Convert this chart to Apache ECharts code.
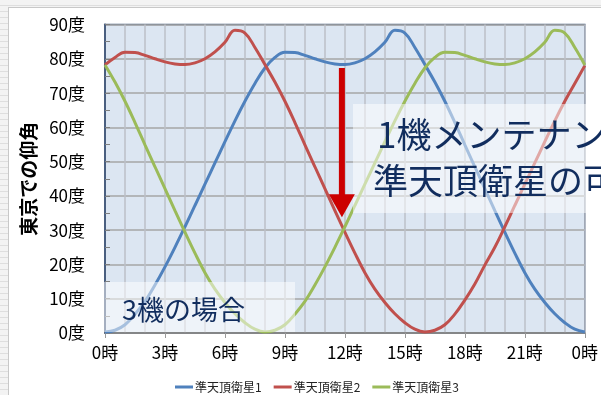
<!DOCTYPE html>
<html><head><meta charset="utf-8">
<script src="https://cdn.jsdelivr.net/npm/echarts@6/dist/echarts.min.js"></script>
<style>
html,body{margin:0;padding:0;width:601px;height:395px;overflow:hidden;
  background:repeating-linear-gradient(to bottom,#f3f3f3 0px,#f3f3f3 5px,#dedede 5px,#dedede 6px);}
#bg{position:absolute;left:8px;top:7px;width:700px;height:500px;background:#fff;border:1px solid #c8c8c8;}
#c{position:absolute;left:0;top:0;width:601px;height:395px;}
</style>
</head><body><div id="bg"></div><div id="c"></div>
<script>
const hours = [0,0.5,1,1.5,2,2.5,3,3.5,4,4.5,5,5.5,6,6.5,7,7.5,8,8.5,9,9.5,10,10.5,11,11.5,12,
  12.5,13,13.5,14,14.5,15,15.5,16,16.5,17,17.5,18,18.5,19,19.5,20,20.5,21,21.5,22,22.5,23,23.5,24];
const sat1 = [0.3,0.8,2.4,5.5,9.2,14,19.3,25,31,37.2,43.4,49.6,55.8,61.9,67.6,72.8,77.3,80.4,81.9,81.8,81,80,79.1,78.5,78.3,
  78.8,80,82,84.8,88.3,87.5,83.3,78.3,73.2,67.6,61.4,54.9,48.5,42.1,35.7,29.4,23.3,17.6,12.8,8.9,5.6,3,1.1,0.3];
const sat2 = [78.2,80.4,81.9,81.8,81,80,79.1,78.5,78.3,78.8,80,82,84.8,88.3,87.5,83.3,78.3,73.2,67.6,61.4,54.9,48.5,42.1,35.7,29.4,
  23.3,17.6,12.8,8.9,5.6,3,1.1,0.3,0.8,2.4,5.5,9.6,14.3,19.8,25,31,37.2,43.4,49.6,55.8,61.9,67.6,72.8,78];
const sat3 = [78.2,73.2,67.6,61.4,54.9,48.5,42.1,35.7,29.4,23.3,17.6,12.8,8.9,5.6,3,1.1,0.3,0.8,2.4,5.5,9.2,14,19.3,25,31,
  37.2,43.4,49.6,55.8,61.9,67.6,72.8,77.3,80.4,81.9,81.8,81,80,79.1,78.5,78.3,78.8,80,82,84.8,88.3,87.5,83.3,78.2];
const seriesNames = ['準天頂衛星1','準天頂衛星2','準天頂衛星3'];
const xTicks = [0,3,6,9,12,15,18,21,24];
const yAxisName = '東京での仰角';
const noteMain = ['1機メンテナンス時', '準天頂衛星の可視状況'];
const noteSmall = '3機の場合';
const arrowHour = 11.85, arrowTopDeg = 77.3, arrowTipDeg = 33.8;

const FONT = '"Noto Sans CJK JP","Noto Sans",sans-serif';
const colors = ['#4f81bd','#c0504d','#9bbb59'];
const chart = echarts.init(document.getElementById('c'), null, {renderer:'canvas'});
const pairs = arr => hours.map((h,i)=>[h, arr[i]]);
const mk = (name, arr, color) => ({
  name, type:'line', data: pairs(arr), smooth:0.4, symbol:'none',
  lineStyle:{color, width:3}, itemStyle:{color}, z:3
});
chart.setOption({
  animation:false,
  backgroundColor:'transparent',
  textStyle:{fontFamily:FONT},
  grid:{left:105, top:24.5, right:16, bottom:62, show:true, backgroundColor:'#dce6f2',
        borderColor:'#4a5f80', borderWidth:1.5},
  legend:{top:376, left:170, itemWidth:18, itemHeight:3, itemGap:12, icon:'rect',
    textStyle:{fontSize:12, color:'#222', fontFamily:FONT, padding:[0,0,0,-3]},
    data:seriesNames},
  xAxis:{type:'value', min:0, max:24, interval:3,
    axisLine:{lineStyle:{color:'#7f7f7f', width:1.5}},
    axisTick:{show:true, length:5, lineStyle:{color:'#9a9a9a'}},
    minorTick:{show:false, splitNumber:3},
    axisLabel:{fontSize:17, color:'#000', margin:11, fontFamily:FONT,
      formatter: v => (xTicks.indexOf(v)>=0 ? (v%24)+'時' : '')},
    splitLine:{show:true, lineStyle:{color:'#bcc0c8', width:1.5}},
    minorSplitLine:{show:true, lineStyle:{color:'#bcc0c8', width:1.5}}
  },
  yAxis:{type:'value', min:0, max:90, interval:10,
    name:yAxisName, nameLocation:'middle', nameRotate:90, nameGap:63,
    nameTextStyle:{fontSize:19, fontWeight:'bold', color:'#000', fontFamily:FONT},
    axisLine:{show:true, lineStyle:{color:'#4a5f80', width:2}},
    axisTick:{show:true, inside:true, length:5, lineStyle:{color:'#7f7f7f'}},
    minorTick:{show:true, splitNumber:2, length:5, lineStyle:{color:'#7f7f7f'}},
    axisLabel:{fontSize:17, color:'#000', margin:20, fontFamily:FONT, formatter:'{value}度'},
    splitLine:{show:true, lineStyle:{color:'#a6a6a6', width:1.5}}
  },
  series:[mk(seriesNames[0],sat1,colors[0]), mk(seriesNames[1],sat2,colors[1]), mk(seriesNames[2],sat3,colors[2])]
});
const arrTop = chart.convertToPixel({xAxisIndex:0,yAxisIndex:0},[arrowHour, arrowTopDeg]);
const arrTip = chart.convertToPixel({xAxisIndex:0,yAxisIndex:0},[arrowHour, arrowTipDeg]);
const headH = 23, headW = 13;
chart.setOption({
  graphic:[
    {type:'rect', shape:{x:353, y:104, width:260, height:109},
      style:{fill:'rgba(255,255,255,0.5)'}, z:50},
    {type:'text', x:377, y:135, z:51,
      style:{text:noteMain[0], fill:'#112d5e', font:'35px '+FONT, textVerticalAlign:'middle'}},
    {type:'text', x:373, y:181, z:51,
      style:{text:noteMain[1], fill:'#112d5e', font:'35px '+FONT, textVerticalAlign:'middle'}},
    {type:'rect', shape:{x:104, y:282, width:191, height:50},
      style:{fill:'rgba(255,255,255,0.5)'}, z:50},
    {type:'text', x:122, y:310, z:51,
      style:{text:noteSmall, fill:'#112d5e', font:'27px '+FONT, textVerticalAlign:'middle'}},
    {type:'line', shape:{x1:arrTop[0], y1:arrTop[1], x2:arrTip[0], y2:arrTip[1]-headH+2},
      style:{stroke:'#cc0000', lineWidth:6}, z:60},
    {type:'polygon', shape:{points:[[arrTip[0]-headW, arrTip[1]-headH],[arrTip[0]+headW, arrTip[1]-headH],[arrTip[0], arrTip[1]]]},
      style:{fill:'#cc0000'}, z:60}
  ]
});
</script>
</body></html>
